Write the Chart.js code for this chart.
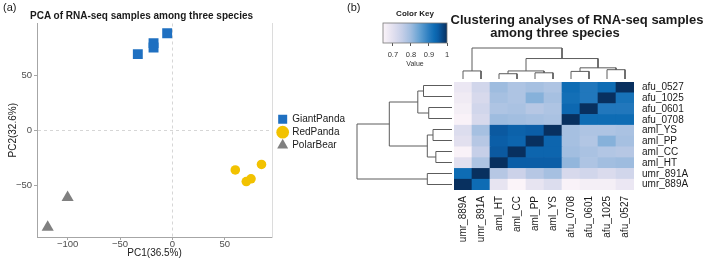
<!DOCTYPE html>
<html>
<head>
<meta charset="utf-8">
<script src="https://cdn.jsdelivr.net/npm/chart.js@4.4.1/dist/chart.umd.min.js"></script>
<style>
    html, body { margin: 0; padding: 0; background: #fff; }
    #page { position: relative; width: 709px; height: 261px; overflow: hidden;
            font-family: "Liberation Sans", Arial, sans-serif; color: #1a1a1a; }
    #page canvas, #page .txt { position: absolute; }
    .txt { white-space: nowrap; line-height: 1; }
</style>
</head>
<body>
<div id="page">
    <canvas id="pca" width="355" height="261" style="left:0;top:0;"></canvas>
    <canvas id="key" width="80" height="68" style="left:375px;top:3px;"></canvas>
    <canvas id="dendroTop" width="180" height="34" style="left:454px;top:46px;"></canvas>
    <canvas id="dendroLeft" width="100" height="114" style="left:354px;top:78px;"></canvas>
    <canvas id="heat" width="255" height="193" style="left:454px;top:68px;"></canvas>

    <div class="txt" style="left:3px;top:1.7px;font-size:11px;">(a)</div>
    <div class="txt" style="left:30px;top:10.6px;font-size:10px;font-weight:bold;">PCA of RNA-seq samples among three species</div>
    <div class="txt" style="left:347px;top:1.7px;font-size:11px;">(b)</div>
    <div class="txt" style="left:427px;top:12.5px;width:300px;text-align:center;font-size:13px;font-weight:bold;">Clustering analyses of RNA-seq samples</div>
    <div class="txt" style="left:455px;top:25.5px;width:200px;text-align:center;font-size:13px;font-weight:bold;">among three species</div>
</div>
<script>
    // --- panel (a): PCA scores ---
    const giantPandaPC1 = [-33, -18, -18, -5];
    const giantPandaPC2 = [69, 79, 75, 88];
    const redPandaPC1 = [60, 70.5, 75, 85];
    const redPandaPC2 = [-36, -46.5, -44, -31];
    const polarBearPC1 = [-100, -119];
    const polarBearPC2 = [-61, -88];
    const pcaXTicks = [-100, -50, 0, 50];
    const pcaYTicks = [-50, 0, 50];

    // --- panel (b): sample correlations ---
    const colLabels = ['umr_889A', 'umr_891A', 'aml_HT', 'aml_CC', 'aml_PP', 'aml_YS', 'afu_0708', 'afu_0601', 'afu_1025', 'afu_0527'];
    const rowLabels = ['afu_0527', 'afu_1025', 'afu_0601', 'afu_0708', 'aml_YS', 'aml_PP', 'aml_CC', 'aml_HT', 'umr_891A', 'umr_889A'];

    // one row per sample, top to bottom, values in column order
    const rowAfu0527 = [0.68, 0.73, 0.80, 0.78, 0.79, 0.78, 0.93, 0.91, 0.93, 1];
    const rowAfu1025 = [0.67, 0.72, 0.79, 0.78, 0.82, 0.79, 0.925, 0.91, 1, 0.92];
    const rowAfu0601 = [0.66, 0.73, 0.78, 0.785, 0.77, 0.78, 0.935, 1, 0.91, 0.91];
    const rowAfu0708 = [0.65, 0.72, 0.80, 0.795, 0.79, 0.785, 1, 0.93, 0.93, 0.93];
    const rowAmlYS = [0.71, 0.79, 0.955, 0.945, 0.95, 1, 0.79, 0.78, 0.78, 0.785];
    const rowAmlPP = [0.70, 0.77, 0.95, 0.94, 1, 0.94, 0.79, 0.775, 0.82, 0.79];
    const rowAmlCC = [0.65, 0.75, 0.955, 1, 0.94, 0.94, 0.795, 0.785, 0.775, 0.77];
    const rowAmlHT = [0.70, 0.78, 1, 0.95, 0.95, 0.95, 0.81, 0.78, 0.795, 0.80];
    const rowUmr891A = [0.93, 1, 0.77, 0.74, 0.77, 0.79, 0.72, 0.73, 0.715, 0.73];
    const rowUmr889A = [1, 0.93, 0.69, 0.64, 0.69, 0.71, 0.65, 0.66, 0.66, 0.68];
    const corrRows = [rowAfu0527, rowAfu1025, rowAfu0601, rowAfu0708, rowAmlYS, rowAmlPP, rowAmlCC, rowAmlHT, rowUmr891A, rowUmr889A];

    // clustering tree (same for rows and columns), leaves in column order
    const mergeLeft = ['umr_889A', 'aml_HT', 'aml_PP', 'm2', 'afu_0708', 'afu_1025', 'm5', 'm4', 'm1'];
    const mergeRight = ['umr_891A', 'aml_CC', 'aml_YS', 'm3', 'afu_0601', 'afu_0527', 'm6', 'm7', 'm8'];
    const mergeHeight = [0.26, 0.17, 0.20, 0.26, 0.245, 0.30, 0.36, 0.66, 1.0];

    // colour key
    const keyTicks = [0.7, 0.8, 0.9, 1];
    const keyStops = [0.645, 0.70, 0.75, 0.80, 0.85, 0.90, 0.93, 0.95, 1.0];
    const keyColors = ['#fbf4f9', '#e2e0ef', '#c6cfe8', '#9ebcdf', '#62a0d2', '#2a7dc0', '#0e6cb4', '#0b5ea7', '#08305f'];

    Chart.defaults.font.family = '"Liberation Sans", Arial, sans-serif';
    Chart.defaults.animation = false;
    Chart.defaults.responsive = false;
    Chart.defaults.devicePixelRatio = 1;
    Chart.defaults.plugins.legend.display = false;
    Chart.defaults.plugins.tooltip.enabled = false;

    function points(xs, ys) {
        return xs.map((x, i) => ({ x: x, y: ys[i] }));
    }

    function minusLabel(v) {
        return v < 0 ? '\u2212' + Math.abs(v) : String(v);
    }

    function hexRgb(h) {
        return [1, 3, 5].map(i => parseInt(h.slice(i, i + 2), 16));
    }

    function heatColor(v) {
        let i = 0;
        while (i < keyStops.length - 2 && v > keyStops[i + 1]) i++;
        const t = Math.min(1, Math.max(0, (v - keyStops[i]) / (keyStops[i + 1] - keyStops[i])));
        const a = hexRgb(keyColors[i]);
        const b = hexRgb(keyColors[i + 1]);
        return 'rgb(' + a.map((c, k) => Math.round(c + (b[k] - c) * t)).join(',') + ')';
    }

    // U-shaped links of the tree, as [position, height] pairs
    function dendroLinks() {
        const pos = {};
        const hgt = {};
        colLabels.forEach((n, i) => { pos[n] = i + 0.5; hgt[n] = 0; });
        return mergeHeight.map((h, k) => {
            const a = mergeLeft[k];
            const b = mergeRight[k];
            pos['m' + (k + 1)] = (pos[a] + pos[b]) / 2;
            hgt['m' + (k + 1)] = h;
            return [[pos[a], hgt[a]], [pos[a], h], [pos[b], h], [pos[b], hgt[b]]];
        });
    }

    const zeroGrid = ctx => (ctx.tick && ctx.tick.value === 0) ? '#d6d6d6' : 'rgba(0,0,0,0)';

    // --- PCA scatter ---
    new Chart(document.getElementById('pca'), {
        type: 'scatter',
        data: {
            datasets: [
                { label: 'GiantPanda', data: points(giantPandaPC1, giantPandaPC2), pointStyle: 'rect',
                  pointRadius: 7, backgroundColor: '#1f70c1', borderWidth: 0 },
                { label: 'RedPanda', data: points(redPandaPC1, redPandaPC2), pointStyle: 'circle',
                  pointRadius: 4.8, backgroundColor: '#f2c200', borderWidth: 0 },
                { label: 'PolarBear', data: points(polarBearPC1, polarBearPC2), pointStyle: 'triangle',
                  pointRadius: 7, backgroundColor: '#808080', borderWidth: 0 }
            ]
        },
        options: {
            layout: { padding: { top: 23.5, left: 0, right: 0, bottom: 0 } },
            plugins: {
                legend: {
                    display: true,
                    position: 'right',
                    fullSize: false,
                    maxWidth: 90,
                    // empty title only nudges the keys down a little
                    title: { display: true, text: '', padding: 0, font: { size: 3.3 } },
                    labels: { usePointStyle: true, boxWidth: 9, boxHeight: 9, padding: 3,
                              color: '#1a1a1a', font: { size: 10 } }
                }
            },
            scales: {
                x: {
                    min: -129.2, max: 95.2,
                    afterBuildTicks: s => { s.ticks = pcaXTicks.map(v => ({ value: v })); },
                    afterFit: s => { s.height = 24; },
                    grid: { color: zeroGrid, tickColor: '#a6a6a6', tickLength: 3 },
                    border: { color: '#a6a6a6', dash: [3, 3] },
                    ticks: { padding: -1.5, color: '#4d4d4d', font: { size: 9.5 }, callback: minusLabel },
                    title: { display: true, text: 'PC1(36.5%)', color: '#1a1a1a', font: { size: 10 },
                             padding: { top: 0, bottom: 1.4 } }
                },
                y: {
                    min: -96.8, max: 96.8,
                    afterBuildTicks: s => { s.ticks = pcaYTicks.map(v => ({ value: v })); },
                    afterFit: s => { s.width = 37; },
                    grid: { color: zeroGrid, tickColor: '#a6a6a6', tickLength: 3 },
                    border: { color: '#a6a6a6', dash: [3, 3] },
                    ticks: { padding: 2, color: '#4d4d4d', font: { size: 9.5 }, callback: minusLabel },
                    title: { display: true, text: 'PC2(32.6%)', color: '#1a1a1a', font: { size: 10 },
                             padding: { top: 7.4, bottom: 0 } }
                },
                yR: {
                    position: 'right',
                    grid: { display: false, drawTicks: false },
                    ticks: { display: false },
                    border: { color: '#dcdcdc' },
                    afterFit: s => { s.width = 3; }
                }
            }
        }
    });

    // --- colour key ---
    const keyGradient = {
        id: 'keyGradient',
        beforeDatasetsDraw(chart) {
            const { ctx, chartArea: a, scales: { x } } = chart;
            const g = ctx.createLinearGradient(a.left, 0, a.right, 0);
            keyStops.forEach((v, i) => {
                const f = (x.getPixelForValue(v) - a.left) / (a.right - a.left);
                g.addColorStop(Math.min(1, Math.max(0, f)), keyColors[i]);
            });
            ctx.save();
            ctx.fillStyle = g;
            ctx.fillRect(a.left, a.top, a.right - a.left, a.bottom - a.top);
            ctx.strokeStyle = '#777';
            ctx.lineWidth = 0.8;
            ctx.strokeRect(a.left, a.top, a.right - a.left, a.bottom - a.top);
            ctx.restore();
        }
    };

    new Chart(document.getElementById('key'), {
        type: 'scatter',
        data: { datasets: [] },
        plugins: [keyGradient],
        options: {
            layout: { padding: { top: 0, left: 8, right: 8, bottom: 0 } },
            plugins: {
                title: { display: true, text: 'Color Key', color: '#1a1a1a',
                         font: { size: 8, weight: 'bold' }, padding: { top: 6.2, bottom: 4.2 } }
            },
            scales: {
                x: {
                    min: 0.645, max: 1,
                    afterBuildTicks: s => { s.ticks = keyTicks.map(v => ({ value: v })); },
                    afterFit: s => { s.height = 28; },
                    grid: { drawOnChartArea: false, tickColor: '#555', tickLength: 3 },
                    border: { display: false },
                    ticks: { padding: 4, color: '#333', font: { size: 7.5 }, callback: v => String(v) },
                    title: { display: true, text: 'Value', color: '#333', font: { size: 7 },
                             padding: { top: 0, bottom: 2.8 } }
                },
                y: { display: false }
            }
        }
    });

    // --- dendrograms ---
    const links = dendroLinks();
    const linkStyle = { showLine: true, pointRadius: 0, borderColor: '#5c5c5c', borderWidth: 1, clip: false };

    new Chart(document.getElementById('dendroTop'), {
        type: 'scatter',
        data: {
            datasets: links.map(l => Object.assign({ data: l.map(p => ({ x: p[0], y: p[1] })) }, linkStyle))
        },
        options: {
            layout: { padding: { top: 2, bottom: 1, left: 0, right: 0 } },
            scales: {
                x: { min: 0, max: colLabels.length, display: false },
                y: { min: 0, max: 1, display: false }
            }
        }
    });

    new Chart(document.getElementById('dendroLeft'), {
        type: 'scatter',
        data: {
            datasets: links.map(l => Object.assign({ data: l.map(p => ({ x: p[1], y: p[0] })) }, linkStyle))
        },
        options: {
            layout: { padding: { top: 2, bottom: 2, left: 3, right: 2 } },
            scales: {
                x: { min: 0, max: 1, reverse: true, display: false },
                y: { min: 0, max: rowLabels.length, display: false }
            }
        }
    });

    // --- heatmap: one floating bar per cell ---
    const cells = [];
    corrRows.forEach((row, r) => {
        row.forEach((v, c) => {
            cells.push({ x: colLabels[c], y: [rowLabels.length - 1 - r, rowLabels.length - r], v: v });
        });
    });

    new Chart(document.getElementById('heat'), {
        type: 'bar',
        data: {
            labels: colLabels,
            datasets: [{
                data: cells,
                yAxisID: 'y',
                backgroundColor: ctx => heatColor(ctx.raw.v),
                borderWidth: 0,
                categoryPercentage: 1,
                barPercentage: 1
            }]
        },
        options: {
            layout: { padding: { top: 12, left: 0, right: 0, bottom: 0 } },
            scales: {
                x: {
                    grid: { display: false, drawTicks: false },
                    border: { display: false },
                    ticks: { autoSkip: false, minRotation: 90, maxRotation: 90, padding: 6,
                             color: '#1a1a1a', font: { size: 10 } },
                    afterFit: s => { s.height = 71; }
                },
                y: { type: 'linear', min: 0, max: rowLabels.length, display: false },
                yLab: {
                    type: 'category',
                    labels: rowLabels,
                    position: 'right',
                    offset: true,
                    grid: { display: false, drawTicks: false },
                    border: { display: false },
                    ticks: { autoSkip: false, padding: 8, color: '#1a1a1a', font: { size: 10 } },
                    afterFit: s => { s.width = 75; }
                }
            }
        }
    });
</script>
</body>
</html>
